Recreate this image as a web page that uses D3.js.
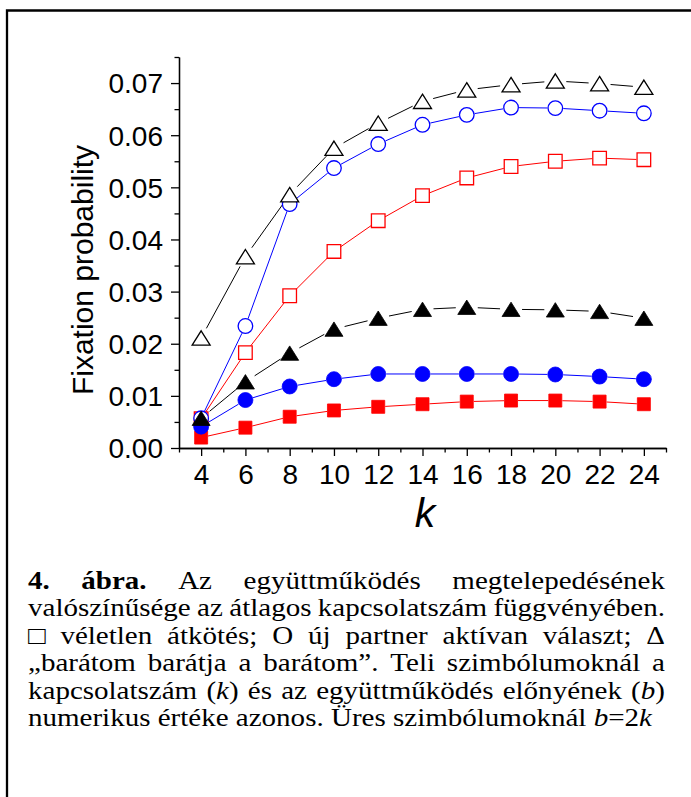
<!DOCTYPE html>
<html>
<head>
<meta charset="utf-8">
<script src="https://cdn.jsdelivr.net/npm/d3@7"></script>
<style>
  body { margin: 0; background: #fff; }
  svg { display: block; }
  .cap text { font-family: "Liberation Serif", "Times New Roman", "DejaVu Serif", serif; }
</style>
</head>
<body>
<div id="chart"></div>
<script>
// k values on the x axis
let kValues = [4, 6, 8, 10, 12, 14, 16, 18, 20, 22, 24];

// open symbols: b = 2k
let openTriangle = [0.0211, 0.0367, 0.0486, 0.0575, 0.0623, 0.0665, 0.0687, 0.0697, 0.0704, 0.0699, 0.0692];
let openCircle   = [0.0057, 0.0234, 0.0468, 0.0537, 0.0583, 0.0620, 0.0639, 0.0653, 0.0652, 0.0647, 0.0642];
let openSquare   = [0.0056, 0.0183, 0.0292, 0.0377, 0.0436, 0.0484, 0.0518, 0.0540, 0.0550, 0.0556, 0.0553];
// filled symbols: b = k
let filledTriangle = [0.0057, 0.0127, 0.0182, 0.0228, 0.0249, 0.0266, 0.0270, 0.0266, 0.0265, 0.0262, 0.0249];
let filledCircle   = [0.0041, 0.0092, 0.0118, 0.0132, 0.0142, 0.0142, 0.0142, 0.0142, 0.0141, 0.0137, 0.0132];
let filledSquare   = [0.0020, 0.0039, 0.0060, 0.0072, 0.0079, 0.0084, 0.0089, 0.0091, 0.0091, 0.0089, 0.0084];

let yTicks = [0, 0.01, 0.02, 0.03, 0.04, 0.05, 0.06, 0.07];
let xTicks = [4, 6, 8, 10, 12, 14, 16, 18, 20, 22, 24];

let captionLines = [
  "*4.* *ábra.* Az együttműködés megtelepedésének",
  "valószínűsége az átlagos kapcsolatszám függvényében.",
  "□ véletlen átkötés; O új partner aktívan választ; Δ",
  "„barátom barátja a barátom”. Teli szimbólumoknál a",
  "kapcsolatszám (_k_) és az együttműködés előnyének (_b_)",
  "numerikus értéke azonos. Üres szimbólumoknál _b_=2_k_"
];

let w = 691;
let h = 797;
let sansFont = "Liberation Sans, Arial, sans-serif";

let svg = d3.select("#chart")
  .append("svg")
    .attr("width", w)
    .attr("height", h)
    .style("background-color", "white");

// frame round the figure (open to the right and bottom)
svg.append("path")
  .attr("d", "M7," + h + " L7,10.5 L" + w + ",10.5")
  .attr("fill", "none")
  .attr("stroke", "black")
  .attr("stroke-width", 2.3);

// scales
let x = d3.scaleLinear().domain([3, 25]).range([179, 666]);
let y = d3.scaleLinear().domain([0, 0.075]).range([448, 57]);

// axes
let yAxis = svg.append("g")
  .attr("transform", "translate(179,0)")
  .call(d3.axisLeft(y).tickValues(yTicks).tickFormat(d3.format(".2f")).tickSize(8).tickSizeOuter(0));
let yMinor = svg.append("g")
  .attr("transform", "translate(179,0)")
  .call(d3.axisLeft(y).tickValues([0.005, 0.015, 0.025, 0.035, 0.045, 0.055, 0.065, 0.075]).tickFormat("").tickSize(4.5).tickSizeOuter(0));
let xAxis = svg.append("g")
  .attr("transform", "translate(0,448)")
  .call(d3.axisBottom(x).tickValues(xTicks).tickSize(8).tickSizeOuter(0));
let xMinor = svg.append("g")
  .attr("transform", "translate(0,448)")
  .call(d3.axisBottom(x).tickValues([3, 5, 7, 9, 11, 13, 15, 17, 19, 21, 23, 25]).tickFormat("").tickSize(4.5).tickSizeOuter(0));

svg.selectAll(".domain, .tick line")
  .attr("stroke", "black")
  .attr("stroke-width", 1.3);

yAxis.selectAll("text")
  .attr("font-family", sansFont)
  .attr("font-size", 28)
  .attr("fill", "black")
  .attr("x", -16)
  .attr("dy", "0.35em");
xAxis.selectAll("text")
  .attr("font-family", sansFont)
  .attr("font-size", 28)
  .attr("fill", "black")
  .attr("y", 36)
  .attr("dy", 0);

// axis titles
svg.append("text")
  .text("Fixation probability")
  .attr("transform", "translate(93,270) rotate(-90)")
  .attr("text-anchor", "middle")
  .attr("font-family", sansFont)
  .attr("font-size", 30)
  .attr("fill", "black");
svg.append("text")
  .text("k")
  .attr("x", 425)
  .attr("y", 527)
  .attr("text-anchor", "middle")
  .attr("font-family", sansFont)
  .attr("font-style", "italic")
  .attr("font-size", 41)
  .attr("fill", "black");

// marker shapes
function triPath(s) {
  return "M0," + (-s * 0.8) + " L" + s + "," + (s * 0.8) + " L" + (-s) + "," + (s * 0.8) + " Z";
}
function sqPath(s) {
  return "M" + (-s) + "," + (-s) + " H" + s + " V" + s + " H" + (-s) + " Z";
}
function circPath(r) {
  return "M" + r + ",0 A" + r + "," + r + " 0 1,1 " + (-r) + ",0 A" + r + "," + r + " 0 1,1 " + r + ",0 Z";
}

let series = [
  {values: openSquare, color: "#ff0000", shape: sqPath(6.8), filled: false, gap: 7.5},
  {values: openCircle, color: "#0000ff", shape: circPath(7.3), filled: false, gap: 8},
  {values: openTriangle, color: "black", shape: triPath(9), filled: false, gap: 11},
  {values: filledSquare, color: "#ff0000", shape: sqPath(6.5), filled: true, gap: 7},
  {values: filledCircle, color: "#0000ff", shape: circPath(7.5), filled: true, gap: 8},
  {values: filledTriangle, color: "black", shape: triPath(9), filled: true, gap: 11}
];

// connecting segments, cut short at each marker like Origin does
series.forEach(function(s) {
  let pts = kValues.map(function(k, i) { return [x(k), y(s.values[i])]; });
  let segs = [];
  for (let i = 0; i < pts.length - 1; i++) {
    let dx = pts[i + 1][0] - pts[i][0];
    let dy = pts[i + 1][1] - pts[i][1];
    let len = Math.sqrt(dx * dx + dy * dy);
    if (len <= s.gap * 2) continue;
    let ux = dx / len, uy = dy / len;
    segs.push([[pts[i][0] + ux * s.gap, pts[i][1] + uy * s.gap],
               [pts[i + 1][0] - ux * s.gap, pts[i + 1][1] - uy * s.gap]]);
  }
  svg.append("g").selectAll("line")
    .data(segs)
    .enter()
    .append("line")
      .attr("x1", function(d) { return d[0][0]; })
      .attr("y1", function(d) { return d[0][1]; })
      .attr("x2", function(d) { return d[1][0]; })
      .attr("y2", function(d) { return d[1][1]; })
      .attr("stroke", s.color)
      .attr("stroke-width", 1);
});

// markers
series.forEach(function(s) {
  svg.append("g").selectAll("path")
    .data(kValues)
    .enter()
    .append("path")
      .attr("d", s.shape)
      .attr("transform", function(d, i) { return "translate(" + x(d) + "," + y(s.values[i]) + ")"; })
      .attr("fill", s.filled ? s.color : "white")
      .attr("stroke", s.color)
      .attr("stroke-width", s.filled ? 0.8 : 1.3);
});

// caption, justified by hand; the scan's text is a bit wider than tall
let capLeft = 28;
let capRight = 665;
let capTop = 589;
let capStep = 27.5;
let capSize = 24.6;
let capStretch = 1.18;
let capWidth = (capRight - capLeft) / capStretch;

function parseWord(word) {
  let parts = word.split(/(\*[^*]+\*|_[^_]+_)/).filter(function(p) { return p.length > 0; });
  return parts.map(function(p) {
    if (p[0] == "*") return {t: p.slice(1, -1), b: true, i: false};
    if (p[0] == "_") return {t: p.slice(1, -1), b: false, i: true};
    return {t: p, b: false, i: false};
  });
}

let caption = svg.append("g")
  .attr("class", "cap")
  .attr("transform", "translate(" + capLeft + ",0) scale(" + capStretch + ",1)")
  .attr("font-size", capSize)
  .attr("fill", "black");

let spaceW = caption.append("text").text("a a").node().getComputedTextLength()
  - caption.append("text").text("aa").node().getComputedTextLength();
caption.selectAll("text").remove();

captionLines.forEach(function(line, li) {
  let words = line.split(" ");
  let nodes = words.map(function(wd) {
    let t = caption.append("text").attr("y", capTop + li * capStep);
    parseWord(wd).forEach(function(r) {
      t.append("tspan")
        .text(r.t)
        .attr("font-weight", r.b ? "bold" : null)
        .attr("font-style", r.i ? "italic" : null);
    });
    return t;
  });
  let widths = nodes.map(function(t) { return t.node().getComputedTextLength(); });
  let total = d3.sum(widths);
  let last = li == captionLines.length - 1;
  let gap = last ? spaceW : (capWidth - total) / (words.length - 1);
  let cx = 0;
  nodes.forEach(function(t, i) {
    t.attr("x", cx);
    cx += widths[i] + gap;
  });
});
</script>
</body>
</html>
